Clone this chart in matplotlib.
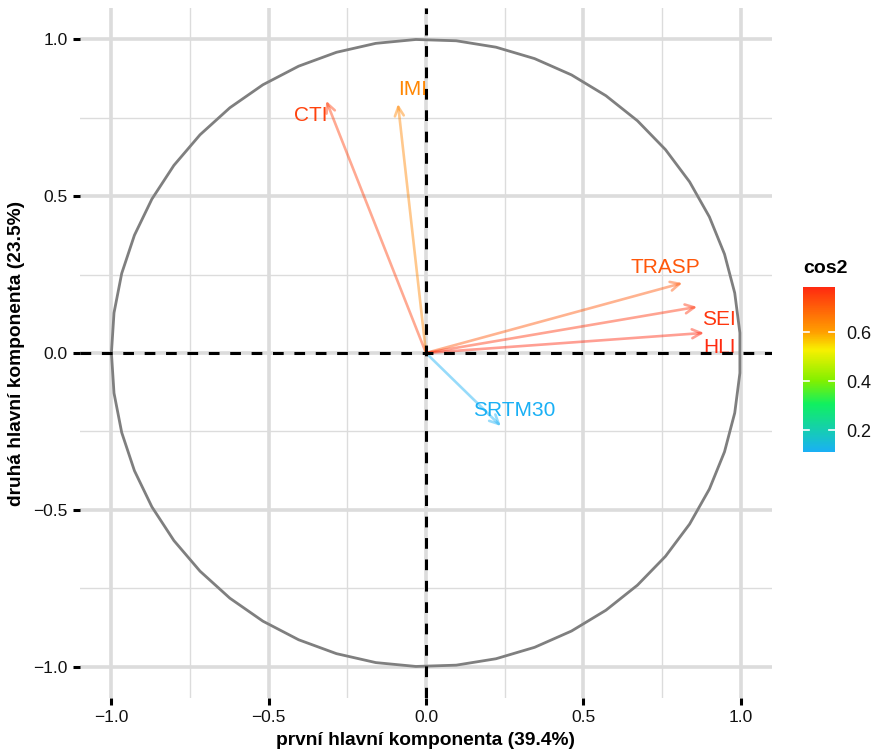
import numpy as np
import matplotlib
matplotlib.use("Agg")
import matplotlib.pyplot as plt
from matplotlib.colors import LinearSegmentedColormap, Normalize
from matplotlib.cm import ScalarMappable

plt.rcParams['font.family'] = ['Liberation Sans', 'DejaVu Sans']

# Variable loadings on the first two principal components
variables = ["CTI", "IMI", "TRASP", "SEI", "HLI", "SRTM30"]
pc1 = [-0.317, -0.089, 0.815, 0.862, 0.884, 0.238]
pc2 = [0.804, 0.794, 0.223, 0.147, 0.064, -0.233]

# Label positions (repelled from arrow tips)
label_x = [-0.365, -0.041, 0.760, 0.932, 0.932, 0.282]
label_y = [0.756, 0.839, 0.274, 0.108, 0.019, -0.182]

x_title = "první hlavní komponenta (39.4%)"
y_title = "druhá hlavní komponenta (23.5%)"
ticks = [-1.0, -0.5, 0.0, 0.5, 1.0]
tick_labels = ["\u22121.0", "\u22120.5", "0.0", "0.5", "1.0"]
minor_ticks = [-0.75, -0.25, 0.25, 0.75]

pc1 = np.array(pc1)
pc2 = np.array(pc2)
cos2 = pc1 ** 2 + pc2 ** 2

cmap = LinearSegmentedColormap.from_list(
    "cos2",
    [(0.00, "#1AB0F5"), (0.29, "#10F060"), (0.43, "#80F000"),
     (0.62, "#F8F000"), (0.73, "#FF9E00"), (1.00, "#FF2A10")])
norm = Normalize(vmin=cos2.min(), vmax=cos2.max())

fig = plt.figure(figsize=(8.73, 7.51), dpi=100)
ax = fig.add_axes([0.0916, 0.0706, 0.7927, 0.9188])
ax.set_xlim(-1.1, 1.1)
ax.set_ylim(-1.1, 1.1)

grid_col = "#DCDCDC"
for t in ticks:
    ax.axvline(t, color=grid_col, lw=2.6, zorder=0)
    ax.axhline(t, color=grid_col, lw=2.6, zorder=0)
for t in minor_ticks:
    ax.axvline(t, color=grid_col, lw=1.0, zorder=0)
    ax.axhline(t, color=grid_col, lw=1.0, zorder=0)

# Arrows
for x, y, c in zip(pc1, pc2, cos2):
    ax.annotate("", xy=(x, y), xytext=(0, 0),
                arrowprops=dict(arrowstyle="->,head_length=0.65,head_width=0.32",
                                color=cmap(norm(c)), lw=1.9, alpha=0.45,
                                shrinkA=0, shrinkB=0),
                zorder=2)

# Labels
for name, lx, ly, c in zip(variables, label_x, label_y, cos2):
    ax.text(lx, ly, name, color=cmap(norm(c)), fontsize=15,
            ha="center", va="center", zorder=3)

# Correlation circle
theta = np.linspace(-np.pi, np.pi, 50)
ax.plot(np.cos(theta), np.sin(theta), color="#7F7F7F", lw=2.0, zorder=4)

ax.axhline(0, color="black", lw=2.2, ls=(0, (3.5, 3.5)), zorder=5)
ax.axvline(0, color="black", lw=2.2, ls=(0, (3.5, 3.5)), zorder=5)

for s in ax.spines.values():
    s.set_visible(False)
ax.set_xticks(ticks)
ax.set_xticklabels(tick_labels)
ax.set_yticks(ticks)
ax.set_yticklabels(tick_labels)
ax.tick_params(axis="both", length=5, width=2.2, color="black",
               labelsize=12.5, labelcolor="#111111", pad=4)
ax.set_xlabel(x_title, fontsize=13.8, fontweight="bold", labelpad=5)
ax.set_ylabel(y_title, fontsize=13.8, fontweight="bold", labelpad=6)

# Colour bar
cax = fig.add_axes([0.9198, 0.398, 0.0367, 0.2197])
sm = ScalarMappable(norm=norm, cmap=cmap)
cb = fig.colorbar(sm, cax=cax, ticks=[0.2, 0.4, 0.6])
cb.outline.set_visible(False)
cb.ax.set_yticklabels(["0.2", "0.4", "0.6"])
cb.ax.tick_params(length=0, labelsize=13, labelcolor="#111111", pad=8)
for t in [0.2, 0.4, 0.6]:
    cb.ax.plot([0, 0.2], [t, t], color="white", lw=1.2, transform=cb.ax.get_yaxis_transform())
    cb.ax.plot([0.8, 1.0], [t, t], color="white", lw=1.2, transform=cb.ax.get_yaxis_transform())
fig.text(0.9198, 0.643, "cos2", fontsize=14, fontweight="bold", ha="left", va="center")

fig.savefig("out.png", dpi=100)
